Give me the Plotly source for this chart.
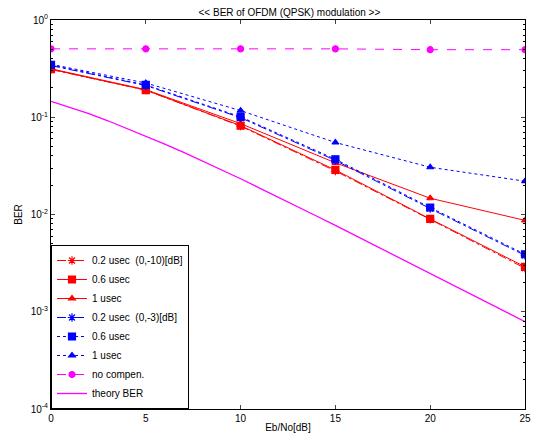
import plotly.graph_objects as go

snr = [0, 5, 10, 15, 20, 25]

red_02 = [0.31, 0.19, 0.081, 0.028, 0.0089, 0.0028]
red_06 = [0.312, 0.19, 0.082, 0.0287, 0.0090, 0.0029]
red_1 = [0.315, 0.192, 0.086, 0.034, 0.0147, 0.0087]
blue_02 = [0.34, 0.212, 0.099, 0.036, 0.0115, 0.0038]
blue_06 = [0.345, 0.215, 0.101, 0.037, 0.0118, 0.0039]
blue_1 = [0.35, 0.225, 0.117, 0.055, 0.0306, 0.022]
no_comp = [0.505, 0.505, 0.505, 0.505, 0.495, 0.495]

theory_x = list(range(26))
theory_ber = [0.146, 0.127, 0.109, 0.092, 0.077, 0.0642, 0.053, 0.0435, 0.0355,
              0.0288, 0.0233, 0.0187, 0.0151, 0.0121, 0.00966, 0.00773, 0.00616,
              0.00491, 0.00392, 0.00312, 0.00248, 0.00197, 0.00157, 0.00125,
              0.00099, 0.00079]

series_names = ["0.2 usec  (0,-10)[dB]", "0.6 usec", "1 usec",
                "0.2 usec  (0,-3)[dB]", "0.6 usec", "1 usec",
                "no compen.", "theory BER"]

RED = "#FF0000"
BLUE = "#0000FF"
MAG = "#FF00FF"

fig = go.Figure()

def add(y, name, color, dash, symbol, size):
    mk = dict(symbol=symbol, size=size, color=color,
              line=dict(color=color, width=1.2))
    fig.add_trace(go.Scatter(x=snr, y=y, name=name, mode="lines+markers",
                             line=dict(color=color, width=1, dash=dash),
                             marker=mk))

add(red_02, series_names[0], RED, "dashdot", "asterisk-open", 7)
add(red_06, series_names[1], RED, "solid", "square", 7)
add(red_1, series_names[2], RED, "solid", "triangle-up", 6)
add(blue_02, series_names[3], BLUE, "dashdot", "asterisk-open", 7)
add(blue_06, series_names[4], BLUE, "dot", "square", 7)
add(blue_1, series_names[5], BLUE, "dot", "triangle-up", 6)
add(no_comp, series_names[6], MAG, "dash", "circle", 6)
fig.add_trace(go.Scatter(x=theory_x, y=theory_ber, name=series_names[7],
                         mode="lines", line=dict(color=MAG, width=1.3)))

minor_vals = [m * 10 ** e for e in range(-4, 0) for m in range(2, 10)]

# figure is 524x425 so that with the page's 8px body margin it fills 540x441
fig.update_layout(
    width=524, height=425,
    margin=dict(l=43, r=7, t=12, b=24),
    paper_bgcolor="white", plot_bgcolor="white",
    font=dict(family="Liberation Sans, Arial", size=10, color="black"),
    title=dict(text="<< BER of OFDM (QPSK) modulation >>", x=0.537, y=0.998,
               xanchor="center", yanchor="top", font=dict(size=10)),
    showlegend=True,
    legend=dict(x=0, y=0, xanchor="left", yanchor="bottom",
                bordercolor="black", borderwidth=1, bgcolor="white",
                font=dict(size=10), tracegroupgap=0, itemwidth=30),
    xaxis=dict(range=[0, 25], tickvals=[0, 5, 10, 15, 20, 25],
               ticks="inside", ticklen=4, showline=True, linecolor="black",
               linewidth=1, mirror="ticks", showgrid=False, zeroline=False,
               automargin=False, ticklabeloverflow="allow",
               title=dict(text="Eb/No[dB]", standoff=4, font=dict(size=10))),
    yaxis=dict(type="log", range=[-4, 0],
               tickvals=[1e-4, 1e-3, 1e-2, 1e-1, 1],
               ticktext=["10<sup>-4</sup>", "10<sup>-3</sup>", "10<sup>-2</sup>",
                         "10<sup>-1</sup>", "10<sup>0</sup>"],
               ticks="inside", ticklen=4, showline=True, linecolor="black",
               linewidth=1, mirror="ticks", showgrid=False, zeroline=False,
               automargin=False, ticklabeloverflow="allow",
               minor=dict(tickvals=minor_vals, ticks="inside", ticklen=2,
                          tickcolor="black", showgrid=False),
               title=dict(text="BER", standoff=6, font=dict(size=10))),
)

fig.write_html("out.html", config={"displayModeBar": False})
